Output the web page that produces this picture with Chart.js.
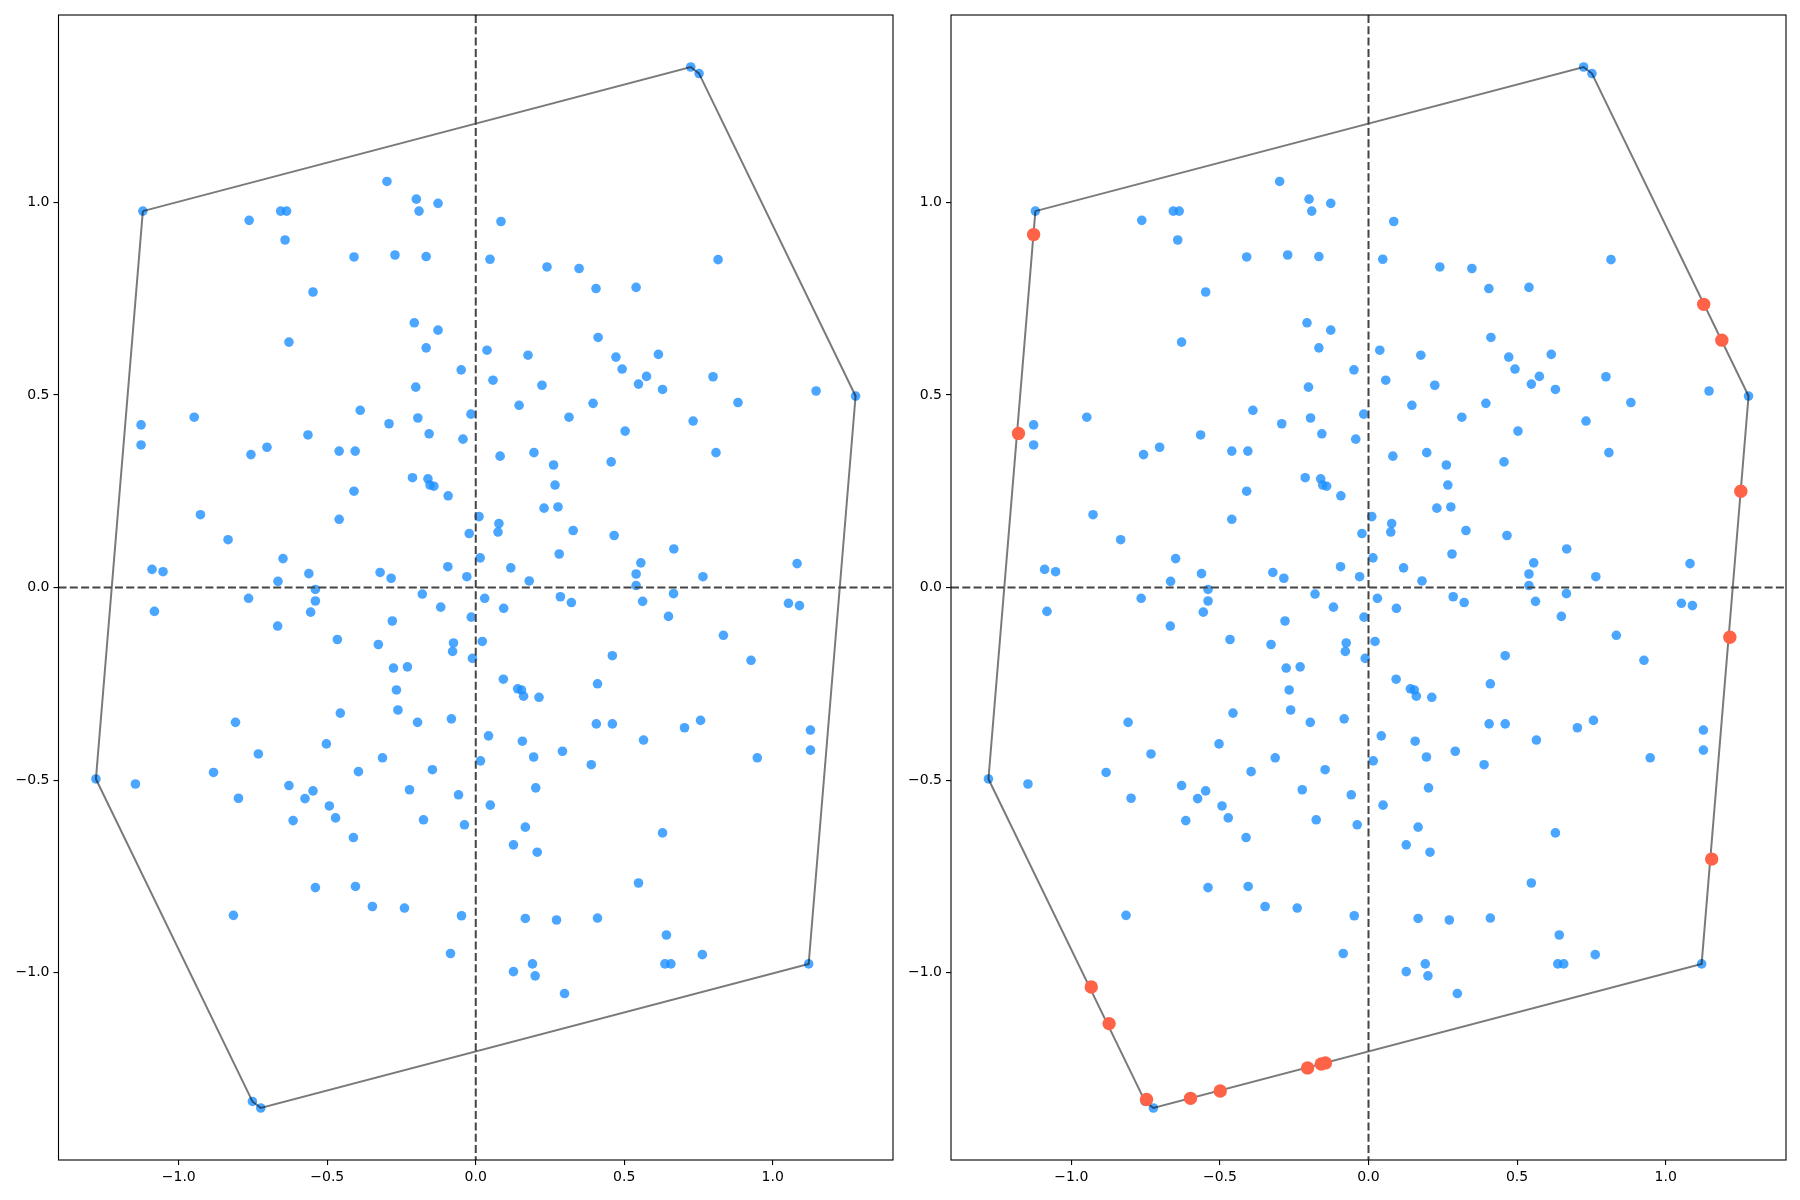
<!DOCTYPE html>
<html lang="en">
<head>
    <meta charset="UTF-8">
    <title>Point cloud with convex hull</title>
    <style>
        body {
            margin: 0;
            padding: 0;
            background-color: #ffffff;
        }
        .panel {
            position: absolute;
            top: 0;
        }
    </style>
</head>
<body>
    <canvas id="leftChart" class="panel" width="900" height="1200" style="left:0px"></canvas>
    <canvas id="rightChart" class="panel" width="900" height="1200" style="left:900px"></canvas>

    <script src="https://cdn.jsdelivr.net/npm/chart.js"></script>
    <script>
        // blue cloud, upper half (y > 0)
        var upperX = [
            -1.121, 0.724, 0.752, 1.279,
            -0.763, -0.657, -0.637, -0.642, -0.299, -0.200, -0.191, -0.127, -0.410, -0.272,
            -0.548, -0.207, 0.085, -0.167, 0.048, 0.240, 0.348, 0.405, 0.540, 0.816,
            -0.127, -0.629, -0.202, -1.127, -0.948, -0.389, -0.292, -0.195, -1.127, -0.757,
            -0.703, -0.565, -0.460, -0.406, -0.213, -0.410, -0.927, -0.460, -0.167, 0.412,
            0.038, 0.176, 0.472, 0.615, -0.049, 0.493, 0.575, 0.799, 0.058, 0.223,
            0.548, 0.629, 0.883, 0.146, 0.395, -0.016, 0.314, 0.732, -0.157, -0.043,
            0.503, 0.082, 0.196, 0.809, 0.456, 0.262, -0.161, -0.154, -0.141, 0.267,
            -0.093, 0.230, 0.277, 0.011, 0.078, 1.146, -0.022, -0.834, -0.649, -1.090,
            -1.053, -0.562, -0.322, -0.285, -0.094, -0.030, -0.666, 0.075, 0.328, 0.466,
            0.015, 0.281, 0.667, 0.118, 0.556, 1.082, 0.540, 0.765, 0.180, 0.540
        ];
        var upperY = [
            0.977, 1.351, 1.334, 0.497,
            0.953, 0.977, 0.977, 0.902, 1.054, 1.008, 0.977, 0.997, 0.858, 0.863,
            0.767, 0.687, 0.950, 0.859, 0.852, 0.832, 0.828, 0.776, 0.779, 0.851,
            0.668, 0.637, 0.520, 0.422, 0.442, 0.460, 0.425, 0.440, 0.370, 0.345,
            0.364, 0.396, 0.354, 0.354, 0.285, 0.250, 0.189, 0.177, 0.622, 0.649,
            0.616, 0.603, 0.598, 0.605, 0.565, 0.567, 0.548, 0.547, 0.538, 0.525,
            0.528, 0.514, 0.480, 0.473, 0.478, 0.450, 0.442, 0.432, 0.399, 0.385,
            0.406, 0.341, 0.350, 0.350, 0.326, 0.318, 0.282, 0.266, 0.263, 0.266,
            0.238, 0.206, 0.209, 0.184, 0.166, 0.510, 0.140, 0.124, 0.075, 0.047,
            0.041, 0.036, 0.039, 0.024, 0.054, 0.028, 0.016, 0.144, 0.148, 0.135,
            0.077, 0.087, 0.100, 0.051, 0.064, 0.062, 0.035, 0.028, 0.017, 0.005
        ];
        // lower half (y < 0)
        var lowerX = [
            1.121, -0.724, -0.752, -1.279,
            0.763, 0.657, 0.637, 0.642, 0.299, 0.200, 0.191, 0.127, 0.410, 0.272,
            0.548, 0.207, -0.085, 0.167, -0.048, -0.240, -0.348, -0.405, -0.540, -0.816,
            0.127, 0.629, 0.202, 1.127, 0.948, 0.389, 0.292, 0.195, 1.127, 0.757,
            0.703, 0.565, 0.460, 0.406, 0.213, 0.410, 0.927, 0.460, 0.167, -0.412,
            -0.038, -0.176, -0.472, -0.615, 0.049, -0.493, -0.575, -0.799, -0.058, -0.223,
            -0.548, -0.629, -0.883, -0.146, -0.395, 0.016, -0.314, -0.732, 0.157, 0.043,
            -0.503, -0.082, -0.196, -0.809, -0.456, -0.262, 0.161, 0.154, 0.141, -0.267,
            0.093, -0.230, -0.277, -0.011, -0.078, -1.146, 0.022, 0.834, 0.649, 1.090,
            1.053, 0.562, 0.322, 0.285, 0.094, 0.030, 0.666, -0.075, -0.328, -0.466,
            -0.015, -0.281, -0.667, -0.118, -0.556, -1.082, -0.540, -0.765, -0.180, -0.540
        ];
        var lowerY = [
            -0.977, -1.351, -1.334, -0.497,
            -0.953, -0.977, -0.977, -0.902, -1.054, -1.008, -0.977, -0.997, -0.858, -0.863,
            -0.767, -0.687, -0.950, -0.859, -0.852, -0.832, -0.828, -0.776, -0.779, -0.851,
            -0.668, -0.637, -0.520, -0.422, -0.442, -0.460, -0.425, -0.440, -0.370, -0.345,
            -0.364, -0.396, -0.354, -0.354, -0.285, -0.250, -0.189, -0.177, -0.622, -0.649,
            -0.616, -0.603, -0.598, -0.605, -0.565, -0.567, -0.548, -0.547, -0.538, -0.525,
            -0.528, -0.514, -0.480, -0.473, -0.478, -0.450, -0.442, -0.432, -0.399, -0.385,
            -0.406, -0.341, -0.350, -0.350, -0.326, -0.318, -0.282, -0.266, -0.263, -0.266,
            -0.238, -0.206, -0.209, -0.184, -0.166, -0.510, -0.140, -0.124, -0.075, -0.047,
            -0.041, -0.036, -0.039, -0.024, -0.054, -0.028, -0.016, -0.144, -0.148, -0.135,
            -0.077, -0.087, -0.100, -0.051, -0.064, -0.062, -0.035, -0.028, -0.017, -0.005
        ];

        // hull corners, closed
        var hullX = [-1.121, 0.724, 0.752, 1.279, 1.121, -0.724, -0.752, -1.279, -1.121];
        var hullY = [0.977, 1.351, 1.334, 0.497, -0.977, -1.351, -1.334, -0.497, 0.977];

        // red points on the hull edges (right panel only)
        var redX = [-1.127, -1.178, 1.128, 1.189, 1.253, 1.216, 1.155, -0.933, -0.873, -0.747, -0.599, -0.499, -0.205, -0.159, -0.145];
        var redY = [0.916, 0.400, 0.735, 0.642, 0.250, -0.129, -0.705, -1.037, -1.132, -1.329, -1.326, -1.307, -1.247, -1.237, -1.234];

        var tickValues = [-1.0, -0.5, 0.0, 0.5, 1.0];

        function toPoints(xs, ys) {
            return xs.map(function(x, i) { return { x: x, y: ys[i] }; });
        }

        function tickLabel(v) {
            return (v < 0 ? '\u2212' : '') + Math.abs(v).toFixed(1);
        }

        // black box round the plot area plus the dashed lines through zero
        var framePlugin = {
            id: 'frame',
            afterDatasetsDraw: function(chart) {
                var ctx = chart.ctx;
                var a = chart.chartArea;
                var x0 = chart.scales.x.getPixelForValue(0);
                var y0 = chart.scales.y.getPixelForValue(0);
                ctx.save();
                ctx.strokeStyle = '#444444';
                ctx.lineWidth = 2;
                ctx.setLineDash([8, 3.3]);
                ctx.beginPath();
                ctx.moveTo(x0, a.top);
                ctx.lineTo(x0, a.bottom);
                ctx.moveTo(a.left, y0);
                ctx.lineTo(a.right, y0);
                ctx.stroke();
                ctx.setLineDash([]);
                ctx.strokeStyle = '#000000';
                ctx.lineWidth = 1.1;
                ctx.strokeRect(a.left, a.top, a.right - a.left, a.bottom - a.top);
                ctx.restore();
            }
        };

        function makeChart(id, withRed, yAxisWidth, rightPad) {
            var datasets = [
                {
                    data: toPoints(upperX.concat(lowerX), upperY.concat(lowerY)),
                    backgroundColor: 'rgba(30, 144, 255, 0.8)',
                    borderWidth: 0,
                    pointRadius: 4.8,
                    order: 3
                },
                {
                    data: toPoints(hullX, hullY),
                    showLine: true,
                    borderColor: 'rgba(0, 0, 0, 0.52)',
                    borderWidth: 2,
                    pointRadius: 0,
                    fill: false,
                    order: 2
                }
            ];
            if (withRed) {
                datasets.push({
                    data: toPoints(redX, redY),
                    backgroundColor: '#ff6347',
                    borderWidth: 0,
                    pointRadius: 6.7,
                    order: 1
                });
            }

            var tickFont = { family: 'DejaVu Sans', size: 14 };

            new Chart(document.getElementById(id), {
                type: 'scatter',
                data: { datasets: datasets },
                plugins: [framePlugin],
                options: {
                    responsive: false,
                    animation: false,
                    events: [],
                    layout: { padding: { left: 0, top: 15, right: rightPad, bottom: 0 } },
                    plugins: {
                        legend: { display: false },
                        tooltip: { enabled: false }
                    },
                    scales: {
                        x: {
                            type: 'linear',
                            min: -1.405,
                            max: 1.405,
                            afterBuildTicks: function(axis) {
                                axis.ticks = tickValues.map(function(v) { return { value: v }; });
                            },
                            afterFit: function(axis) { axis.height = 40; },
                            ticks: { callback: tickLabel, color: '#000', font: tickFont, padding: 4, maxRotation: 0 },
                            grid: { display: true, drawOnChartArea: false, drawTicks: true, tickLength: 5, color: '#000', lineWidth: 1.1 },
                            border: { display: false }
                        },
                        y: {
                            type: 'linear',
                            min: -1.486,
                            max: 1.486,
                            afterBuildTicks: function(axis) {
                                axis.ticks = tickValues.map(function(v) { return { value: v }; });
                            },
                            afterFit: function(axis) { axis.width = yAxisWidth; },
                            ticks: { callback: tickLabel, color: '#000', font: tickFont, padding: 4 },
                            grid: { display: true, drawOnChartArea: false, drawTicks: true, tickLength: 5, color: '#000', lineWidth: 1.1 },
                            border: { display: false }
                        }
                    }
                }
            });
        }

        makeChart('leftChart', false, 58.5, 7);
        makeChart('rightChart', true, 51, 14);
    </script>
</body>
</html>
